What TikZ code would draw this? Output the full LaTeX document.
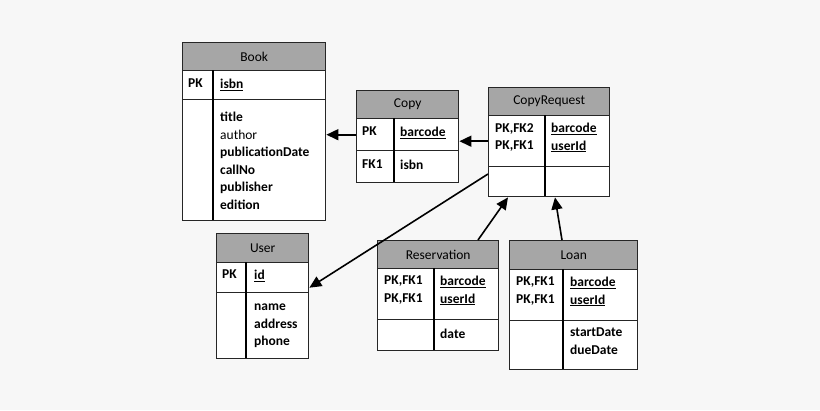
\documentclass[tikz,border=0pt]{standalone}
\usepackage{fontspec}
\setmainfont{Carlito}
\usetikzlibrary{arrows.meta}

\tikzset{
    cell/.style={draw=black!85, line width=1.4pt, fill=white, anchor=north west, inner sep=0pt},
    head/.style={cell, fill=black!35},
    txt/.style={anchor=north west, inner sep=0pt, align=left,
        font=\fontsize{13.5}{17.5}\selectfont\bfseries},
    ttl/.style={font=\fontsize{13.5}{16}\selectfont},
    arr/.style={line width=1.6pt, -{Triangle[length=12pt, width=11pt]}},
}
\newcommand{\ul}[1]{\underline{#1}}

\begin{document}
\begin{tikzpicture}[x=1pt, y=-1pt]
    \fill[black!3] (0,0) rectangle (820,410);
    \useasboundingbox (0,0) rectangle (820,410);

    % Book
    \node[head, minimum width=143, minimum height=28] (book) at (182,42) {};
    \node[ttl] at (book.center) {Book};
    \node[cell, minimum width=143, minimum height=29] (bookk) at (182,70) {};
    \node[cell, minimum width=143, minimum height=121] (bookb) at (182,99) {};
    \draw[line width=1.4pt] (213,70) -- (213,220);
    \node[txt] at (188,79) {PK};
    \node[txt] at (220,79) {\ul{isbn}};
    \node[txt] at (220,112) {title\\\mdseries author\\publicationDate\\callNo\\publisher\\edition};

    % Copy
    \node[head, minimum width=102, minimum height=28] (copy) at (356,90) {};
    \node[ttl] at (copy.center) {Copy};
    \node[cell, minimum width=102, minimum height=32] (copyk) at (356,118) {};
    \node[cell, minimum width=102, minimum height=32] (copyb) at (356,150) {};
    \draw[line width=1.4pt] (394,118) -- (394,182);
    \node[txt] at (362,127) {PK};
    \node[txt] at (400,127) {\ul{barcode}};
    \node[txt] at (362,160) {FK1};
    \node[txt] at (400,160) {isbn};

    % CopyRequest
    \node[head, minimum width=121, minimum height=28] (cr) at (488,87) {};
    \node[ttl] at (cr.center) {CopyRequest};
    \node[cell, minimum width=121, minimum height=51] (crk) at (488,115) {};
    \node[cell, minimum width=121, minimum height=30] (crb) at (488,166) {};
    \draw[line width=1.4pt] (545,115) -- (545,196);
    \node[txt] at (495,123) {PK,FK2\\PK,FK1};
    \node[txt] at (551,123) {\ul{barcode}\\\ul{userId}};

    % User
    \node[head, minimum width=92, minimum height=29] (user) at (216,233) {};
    \node[ttl] at (user.center) {User};
    \node[cell, minimum width=92, minimum height=30] (userk) at (216,262) {};
    \node[cell, minimum width=92, minimum height=66] (userb) at (216,292) {};
    \draw[line width=1.4pt] (246,262) -- (246,358);
    \node[txt] at (222,270) {PK};
    \node[txt] at (254,270) {\ul{id}};
    \node[txt] at (254,304) {name\\address\\phone};

    % Reservation
    \node[head, minimum width=121, minimum height=28] (res) at (377,240) {};
    \node[ttl] at (res.center) {Reservation};
    \node[cell, minimum width=121, minimum height=51] (resk) at (377,268) {};
    \node[cell, minimum width=121, minimum height=31] (resb) at (377,319) {};
    \draw[line width=1.4pt] (434,268) -- (434,350);
    \node[txt] at (384,276) {PK,FK1\\PK,FK1};
    \node[txt] at (440,276) {\ul{barcode}\\\ul{userId}};
    \node[txt] at (440,329) {date};

    % Loan
    \node[head, minimum width=128, minimum height=29] (loan) at (509,240) {};
    \node[ttl] at (loan.center) {Loan};
    \node[cell, minimum width=128, minimum height=51] (loank) at (509,269) {};
    \node[cell, minimum width=128, minimum height=49] (loanb) at (509,320) {};
    \draw[line width=1.4pt] (563,269) -- (563,369);
    \node[txt] at (516,277) {PK,FK1\\PK,FK1};
    \node[txt] at (570,277) {\ul{barcode}\\\ul{userId}};
    \node[txt] at (570,328) {startDate\\dueDate};

    % links
    \draw[arr] (copyk.west) -- (copyk.west -| bookb.east);
    \draw[arr] (crk.west) -- (crk.west -| copyk.east);
    \draw[arr] ([yshift=-8]crb.north west) -- ([yshift=-10]userk.east);
    \draw[arr] ([xshift=101]res.north west) -- ([xshift=20]crb.south west);
    \draw[arr] ([xshift=53]loan.north west) -- ([xshift=67]crb.south west);
\end{tikzpicture}
\end{document}
